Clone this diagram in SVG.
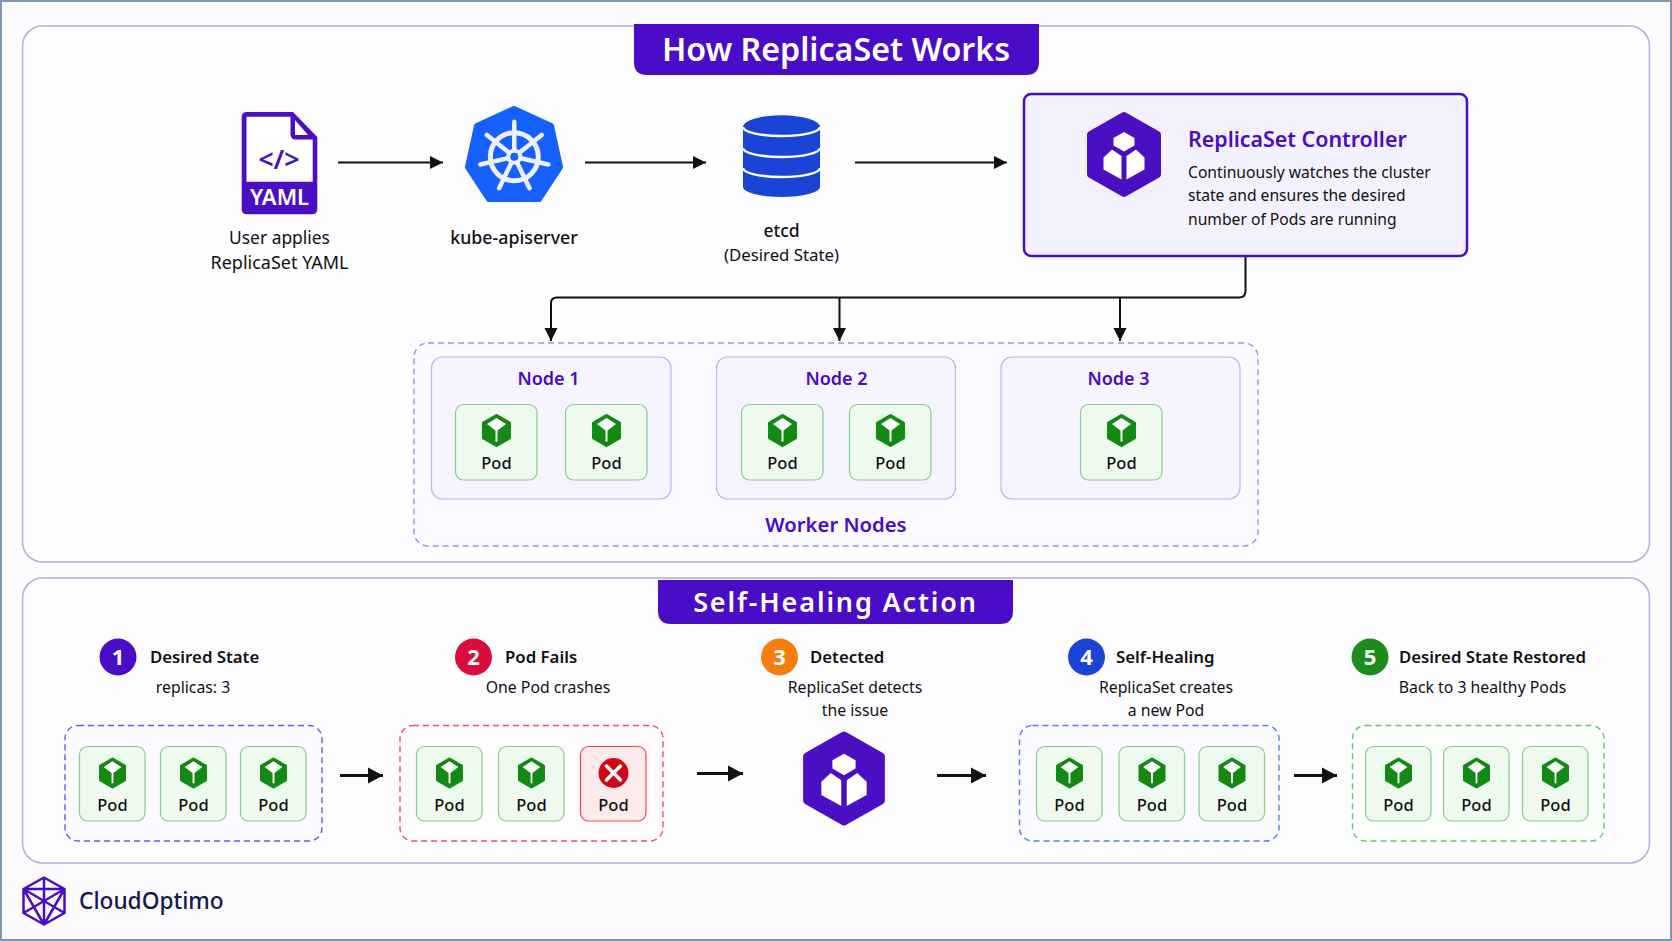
<svg xmlns="http://www.w3.org/2000/svg" width="1672" height="941" viewBox="0 0 1672 941">
<style>
text{font-family:"Noto Sans","Liberation Sans",sans-serif;fill:#111}
.m{text-anchor:middle}
.lab{font-size:17.500px}
.b5{font-weight:500}
.b6{font-weight:600}
.panel{fill:#fdfdff;stroke:#a9b4d6;stroke-width:1.5}
.node{fill:#f6f4ff;stroke:#bdb6f2;stroke-width:1.2}
.podbox{fill:#eefaee;stroke:#86cc8e;stroke-width:1.2}
.podbad{fill:#fdeaec;stroke:#ec4a5c;stroke-width:1.2}
.podt{font-size:16.5px;font-weight:500;text-anchor:middle}
.dash{stroke-width:1.4;stroke-dasharray:6 4}
.stt{font-size:16.800px;font-weight:600}
.sub{font-size:15.800px;text-anchor:middle}
.num{font-size:22px;font-weight:700;fill:#fff;text-anchor:middle}
.con{fill:none;stroke:#111;stroke-width:2}
.con2{fill:none;stroke:#111;stroke-width:3}
</style>
<defs>
<marker id="ah" markerUnits="userSpaceOnUse" markerWidth="14" markerHeight="15" refX="13" refY="7.500" orient="auto"><path d="M0,1 L13,7.500 L0,14Z" fill="#111"/></marker>
<marker id="ah2" markerUnits="userSpaceOnUse" markerWidth="16" markerHeight="18" refX="15" refY="9" orient="auto"><path d="M0,1 L15,9 L0,17Z" fill="#111"/></marker>
<symbol id="podicon" viewBox="0 0 30 34">
<polygon points="15,2 28,9.500 28,24.500 15,32 2,24.500 2,9.500" fill="#138a13" stroke="#138a13" stroke-width="3" stroke-linejoin="round"/>
<polygon points="15,4.500 24.500,10.500 16,17 16,28 14,28 14,17 5.500,10.500" fill="#fff"/>
</symbol>
<symbol id="cubehex" viewBox="0 0 75 86">
<polygon points="37.5,4 71,23 71,63 37.5,82 4,63 4,23" fill="#4a0fc2" stroke="#4a0fc2" stroke-width="7" stroke-linejoin="round"/>
<polygon points="37.5,20.5 48,26.5 48,34 37.5,40 27,34 27,26.5" fill="#fff"/>
<polygon points="17,46 25.500,38 35,44.500 35,68 17,58" fill="#fff"/>
<polygon points="58,46 49.500,38 40,44.500 40,68 58,58" fill="#fff"/>
</symbol>
</defs>
<rect width="1672" height="941" fill="#fbfbfe"/>
<rect x="1" y="1" width="1670" height="939" fill="none" stroke="#8396b0" stroke-width="2"/>
<rect class="panel" x="22.5" y="26" width="1627" height="536" rx="20"/>
<rect class="panel" x="22.5" y="578" width="1627" height="285" rx="20"/>

<g id="title-top"><path d="M634,24 H1039 V62 Q1039,75 1026,75 H647 Q634,75 634,62Z" fill="#4a0cc6"/><text class="m" x="836" y="61" font-size="32.200" font-weight="600" style="fill:#fff">How ReplicaSet Works</text></g>
<g id="title-bottom"><path d="M658,580 H1013 V611 Q1013,624 1000,624 H671 Q658,624 658,611Z" fill="#4a0cc6"/><text class="m" x="835.500" y="612" font-size="27" font-weight="600" letter-spacing="1.850" style="fill:#fff">Self-Healing Action</text></g>

<g id="connectors">
<path class="con" marker-end="url(#ah)" d="M338,162.500 H443"/>
<path class="con" marker-end="url(#ah)" d="M585,162.500 H706"/>
<path class="con" marker-end="url(#ah)" d="M855,162.500 H1007"/>
<path class="con" stroke-width="2.500" d="M1245.500,256 V291 Q1245.500,297.500 1239,297.500 H557 Q551,297.500 551,303"/>
<path class="con" marker-end="url(#ah)" d="M551,302 V341"/>
<path class="con" marker-end="url(#ah)" d="M839.500,297 V341"/>
<path class="con" marker-end="url(#ah)" d="M1120,297 V341"/>
<path class="con2" marker-end="url(#ah2)" d="M340,775.500 H383"/>
<path class="con2" marker-end="url(#ah2)" d="M697,773.500 H743"/>
<path class="con2" marker-end="url(#ah2)" d="M937,775.500 H986"/>
<path class="con2" marker-end="url(#ah2)" d="M1294,775.500 H1337"/>
</g>

<g id="yaml">
<path d="M247,112 H293 L317.300,137 V209 Q317.300,214.300 312,214.300 H247 Q241.700,214.300 241.700,209 V117 Q241.700,112 247,112Z" fill="#4a0fc2"/>
<path d="M246.500,116.700 H290.500 V134 Q290.500,139.500 296,139.500 H312.700 V181.700 H246.500Z" fill="#fff"/>
<polygon points="295,120 308,135 295,135" fill="#fff"/>
<text class="m" x="279" y="169" font-size="27" font-weight="600" style="fill:#4a0fc2">&lt;/&gt;</text>
<text class="m" x="279.500" y="205" font-size="22" font-weight="600" style="fill:#fff">YAML</text>
<text class="m" font-size="17.400" x="279.500" y="244">User applies</text>
<text class="m" font-size="18" x="279.500" y="268.500">ReplicaSet YAML</text>
</g>
<g id="apiserver">
<polygon points="514,109 551,126 560,167 539,199 489,199 468,167 477,126" fill="#1560ff" stroke="#1560ff" stroke-width="6" stroke-linejoin="round"/>
<g transform="translate(514.300,156.700)" fill="none" stroke="#eef1fb">
<circle r="24" stroke-width="5"/>
<path stroke-width="4.500" stroke-linecap="round" d="M0,0 V-35 M0,0 L27.400,-21.800 M0,0 L34.100,7.800 M0,0 L15.200,31.500 M0,0 L-15.200,31.500 M0,0 L-34.100,7.800 M0,0 L-27.400,-21.800"/>
<circle r="8" fill="#eef1fb" stroke="none"/><circle r="4" fill="#1560ff" stroke="none"/>
</g>
<text class="m b5" font-size="17.800" x="514" y="244">kube-apiserver</text>
</g>
<g id="etcd">
<path d="M743,127 A38,11.500 0 0 1 820,127 V187 A38.500,10 0 0 1 743,187Z" fill="#1a44d6"/>
<path d="M743,127 A38.500,9 0 0 0 820,127 M743,148 A38.500,9 0 0 0 820,148 M743,168 A38.500,9 0 0 0 820,168" fill="none" stroke="#fff" stroke-width="2.500"/>
<text class="m b5" font-size="17.500" x="781.500" y="237">etcd</text>
<text class="m" font-size="16.800" x="781.500" y="261">(Desired State)</text>
</g>
<g id="controller">
<rect x="1024" y="94" width="443" height="162" rx="7" fill="#f4f1ff" stroke="#4a0cc6" stroke-width="2.500"/>
<use href="#cubehex" x="1086.500" y="111.500" width="75" height="86"/>
<text font-weight="600" x="1188" y="147" font-size="21.400" style="fill:#4a0cc6">ReplicaSet Controller</text>
<text x="1188" y="178" font-size="15.650">Continuously watches the cluster</text>
<text x="1188" y="201" font-size="15.650">state and ensures the desired</text>
<text x="1188" y="225" font-size="15.650">number of Pods are running</text>
</g>

<g id="worker-nodes">
<rect class="dash" x="414" y="343" width="844" height="203" rx="14" fill="#fbfaff" stroke="#a88ef0"/>
<text class="m b6" x="836" y="532" font-size="20.300" style="fill:#4a0cc6">Worker Nodes</text>
</g>
<g id="node-1">
<rect class="node" x="431.500" y="357" width="239.500" height="142" rx="11"/>
<text class="m b6" x="548.500" y="385" font-size="18" style="fill:#4a0cc6">Node 1</text>
<g id="pod-n1a" transform="translate(455.500,404.500)"><rect class="podbox" width="81.500" height="75.500" rx="8"/><use href="#podicon" x="26" y="9" width="30" height="34"/><text class="podt" x="41" y="64.500">Pod</text></g>
<g id="pod-n1b" transform="translate(565.500,404.500)"><rect class="podbox" width="81.500" height="75.500" rx="8"/><use href="#podicon" x="26" y="9" width="30" height="34"/><text class="podt" x="41" y="64.500">Pod</text></g>
</g>
<g id="node-2">
<rect class="node" x="716.500" y="357" width="239" height="142" rx="11"/>
<text class="m b6" x="836.500" y="385" font-size="18" style="fill:#4a0cc6">Node 2</text>
<g id="pod-n2a" transform="translate(741.500,404.500)"><rect class="podbox" width="81.500" height="75.500" rx="8"/><use href="#podicon" x="26" y="9" width="30" height="34"/><text class="podt" x="41" y="64.500">Pod</text></g>
<g id="pod-n2b" transform="translate(849.500,404.500)"><rect class="podbox" width="81.500" height="75.500" rx="8"/><use href="#podicon" x="26" y="9" width="30" height="34"/><text class="podt" x="41" y="64.500">Pod</text></g>
</g>
<g id="node-3">
<rect class="node" x="1001" y="357" width="239" height="142" rx="11"/>
<text class="m b6" x="1118.500" y="385" font-size="18" style="fill:#4a0cc6">Node 3</text>
<g id="pod-n3a" transform="translate(1080.500,404.500)"><rect class="podbox" width="81.500" height="75.500" rx="8"/><use href="#podicon" x="26" y="9" width="30" height="34"/><text class="podt" x="41" y="64.500">Pod</text></g>
</g>

<g id="step-1">
<circle cx="118" cy="657" r="18.500" fill="#4a0cc6"/><text class="num" x="118" y="665">1</text>
<text class="stt" x="150" y="663">Desired State</text>
<text class="sub" x="193" y="692.500">replicas: 3</text>
<rect class="dash" x="65" y="725.500" width="257" height="115.500" rx="13" fill="#fbfaff" stroke="#7a4df0"/>
<g id="pod-s1a" transform="translate(79.500,746.500)"><rect class="podbox" width="65.500" height="74.500" rx="8"/><use href="#podicon" x="19" y="10.500" width="28" height="32"/><text class="podt" x="33" y="64.500">Pod</text></g>
<g id="pod-s1b" transform="translate(160.500,746.500)"><rect class="podbox" width="65.500" height="74.500" rx="8"/><use href="#podicon" x="19" y="10.500" width="28" height="32"/><text class="podt" x="33" y="64.500">Pod</text></g>
<g id="pod-s1c" transform="translate(240.500,746.500)"><rect class="podbox" width="65.500" height="74.500" rx="8"/><use href="#podicon" x="19" y="10.500" width="28" height="32"/><text class="podt" x="33" y="64.500">Pod</text></g>
</g>
<g id="step-2">
<circle cx="473.500" cy="657" r="18.500" fill="#d90c3c"/><text class="num" x="473.500" y="665">2</text>
<text class="stt" x="505" y="663">Pod Fails</text>
<text class="sub" x="548" y="692.500">One Pod crashes</text>
<rect class="dash" x="400" y="725.500" width="263" height="115.500" rx="13" fill="#fefbfc" stroke="#f0505f"/>
<g id="pod-s2a" transform="translate(416.500,746.500)"><rect class="podbox" width="65.500" height="74.500" rx="8"/><use href="#podicon" x="19" y="10.500" width="28" height="32"/><text class="podt" x="33" y="64.500">Pod</text></g>
<g id="pod-s2b" transform="translate(498.500,746.500)"><rect class="podbox" width="65.500" height="74.500" rx="8"/><use href="#podicon" x="19" y="10.500" width="28" height="32"/><text class="podt" x="33" y="64.500">Pod</text></g>
<g id="pod-s2c" transform="translate(580.500,746.500)"><rect class="podbad" width="65.500" height="74.500" rx="8"/><circle cx="33" cy="26.500" r="15" fill="#d00a14"/><path d="M26,19.500 L40,33.500 M40,19.500 L26,33.500" stroke="#fff" stroke-width="3.500" stroke-linecap="round"/><text class="podt" x="33" y="64.500">Pod</text></g>
</g>
<g id="step-3">
<circle cx="779.500" cy="657" r="18.500" fill="#f57f0e"/><text class="num" x="779.500" y="665">3</text>
<text class="stt" x="810" y="663">Detected</text>
<text class="sub" x="855" y="692.500">ReplicaSet detects</text>
<text class="sub" x="855" y="716">the issue</text>
<use href="#cubehex" x="802.500" y="731" width="83" height="95"/>
</g>
<g id="step-4">
<circle cx="1086.500" cy="657" r="18.500" fill="#1a44d6"/><text class="num" x="1086.500" y="665">4</text>
<text class="stt" x="1116" y="663">Self-Healing</text>
<text class="sub" x="1166" y="692.500">ReplicaSet creates</text>
<text class="sub" x="1166" y="716">a new Pod</text>
<rect class="dash" x="1019.500" y="725.500" width="259.500" height="115.500" rx="13" fill="#fbfbff" stroke="#5b7cf0"/>
<g id="pod-s4a" transform="translate(1036.500,746.500)"><rect class="podbox" width="65.500" height="74.500" rx="8"/><use href="#podicon" x="19" y="10.500" width="28" height="32"/><text class="podt" x="33" y="64.500">Pod</text></g>
<g id="pod-s4b" transform="translate(1119,746.500)"><rect class="podbox" width="65.500" height="74.500" rx="8"/><use href="#podicon" x="19" y="10.500" width="28" height="32"/><text class="podt" x="33" y="64.500">Pod</text></g>
<g id="pod-s4c" transform="translate(1199,746.500)"><rect class="podbox" width="65.500" height="74.500" rx="8"/><use href="#podicon" x="19" y="10.500" width="28" height="32"/><text class="podt" x="33" y="64.500">Pod</text></g>
</g>
<g id="step-5">
<circle cx="1370" cy="657" r="18.500" fill="#1c8c1c"/><text class="num" x="1370" y="665">5</text>
<text class="stt" x="1399" y="663">Desired State Restored</text>
<text class="sub" x="1482.500" y="692.500">Back to 3 healthy Pods</text>
<rect class="dash" x="1352.500" y="725.500" width="251.500" height="115.500" rx="13" fill="#fbfefb" stroke="#6cc476"/>
<g id="pod-s5a" transform="translate(1365.500,746.500)"><rect class="podbox" width="65.500" height="74.500" rx="8"/><use href="#podicon" x="19" y="10.500" width="28" height="32"/><text class="podt" x="33" y="64.500">Pod</text></g>
<g id="pod-s5b" transform="translate(1443.500,746.500)"><rect class="podbox" width="65.500" height="74.500" rx="8"/><use href="#podicon" x="19" y="10.500" width="28" height="32"/><text class="podt" x="33" y="64.500">Pod</text></g>
<g id="pod-s5c" transform="translate(1522.500,746.500)"><rect class="podbox" width="65.500" height="74.500" rx="8"/><use href="#podicon" x="19" y="10.500" width="28" height="32"/><text class="podt" x="33" y="64.500">Pod</text></g>
</g>
<g id="logo">
<path d="M44,877.500 L64.500,889 V913 L44,924.500 L23.500,913 V889Z M44,877.500 V924.500 M23.500,889 H64.500 M23.500,889 L64.500,913 M64.500,889 L23.500,913 M23.500,889 L44,924.500 M64.500,889 L44,924.500" fill="none" stroke="#4a0fc2" stroke-width="2.500" stroke-linejoin="round"/>
<text x="79" y="909" font-size="22.700" font-weight="500" style="fill:#17174f">CloudOptimo</text>
</g>
</svg>
